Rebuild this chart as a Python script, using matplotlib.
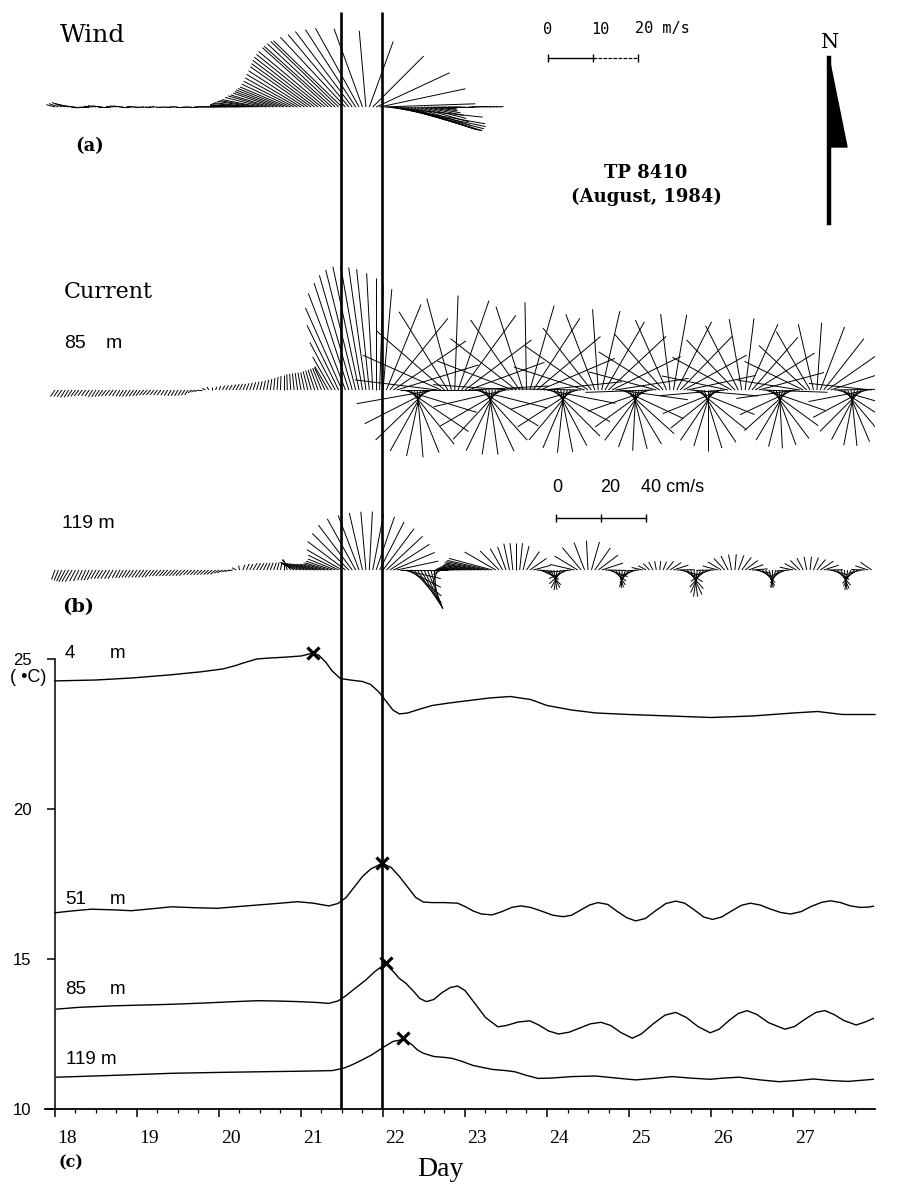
import numpy as np
import matplotlib
matplotlib.use("Agg")
import matplotlib.pyplot as plt
from matplotlib.collections import LineCollection
from matplotlib.patches import Polygon
from matplotlib.lines import Line2D
import matplotlib.transforms as mtransforms

# ---------------- data ----------------
# hourly stick data, starting at day 18.0
wind_speed = [2.0,2.2,2.4,2.4,2.2,2.0,1.8,1.8,2.0,2.2,2.2,2.0,1.8,1.6,1.6,1.8,1.8,1.6,1.5,1.5,1.5,1.6,1.6,1.5,
              1.5,1.5,1.4,1.4,1.3,1.3,1.2,1.2,1.2,1.2,1.3,1.3,1.4,1.4,1.5,1.5,1.5,1.6,1.6,1.7,1.8,1.9,2.0,2.2,
              2.5,3.0,3.5,4.2,5.0,5.7,6.5,7.3,7.6,7.9,8.1,8.3,8.6,8.8,9.0,9.2,9.5,10.0,10.6,11.0,11.4,12.0,12.6,13.3,
              14.1,14.8,15.6,16.4,17.2,18.0,18.6,19.2,19.7,20.2,20.6,21.0,21.2,21.2,21.0,21.0,20.5,20.0,18.5,17.0,15.5,16.0,18.0,19.5,
              20.5,21.5,21.5,21.0,20.0,19.0,18.0,16.5,15.0,13.5,12.0,10.5,9.0,7.5,6.0,5.0,4.0,3.5,3.0,3.0,2.5,2.5,2.0,2.0,
              2.0,1.8,1.6,1.5,1.5,1.4,1.3,1.2,1.2,1.0,1.0]
wind_dir = [285,290,295,290,285,280,275,270,265,265,270,275,280,280,275,270,270,275,280,280,275,270,270,275,
            272,270,268,268,270,272,272,270,268,268,270,272,272,270,270,268,268,270,270,272,272,272,272,272,
            272,272,273,273,274,274,274,274,276,277,279,280,281,284,286,287,289,290,291,292,293,295,297,299,
            301,303,305,306,307,308,309,310,312,312,313,314,314,317,320,323,327,331,340,355,20,45,65,78,
            88,96,100,102,104,106,107,108,109,108,106,104,102,100,98,96,95,94,93,92,92,91,90,90,
            90,88,88,86,86,85,85,85,84,84,84]

cur85_speed = [3.5,3.5,3.6,3.8,3.8,3.6,3.5,3.4,3.2,3.2,3.3,3.5,3.6,3.6,3.5,3.4,3.3,3.2,3.2,3.3,3.4,3.5,3.5,3.4,
               3.3,3.2,3.0,3.0,2.9,2.8,2.8,2.8,2.8,2.9,3.0,3.0,3.0,2.9,2.8,2.7,2.0,1.9,1.8,1.7,1.6,1.6,1.5,1.5,
               2.0,2.2,2.4,2.6,2.8,3.0,3.0,3.0,3.2,3.4,3.6,3.8,4.0,4.3,4.6,5.0,5.4,5.8,6.2,6.6,7.0,7.2,7.4,7.6,
               7.8,8,8.5,9,9.5,10,10.5,11,12,17,24,32,40,46,50,53,55,56,56,55,54,52,50,47,
               45,41,41,39,38,36,34,33,31,30,30,30,31,32,33,35,37,38,40,41,42,42,42,41,
               37,36,34,33,31,30,30,29,29,30,30,32,33,34,36,37,38,39,39,39,38,37,36,35,
               31,30,29,28,28,28,28,29,30,31,32,33,34,35,36,36,36,35,35,34,33,31,30,29,
               28,27,27,27,28,28,29,30,31,32,33,34,34,34,34,33,32,31,30,29,28,28,27,27,
               26,27,27,28,29,30,30,31,32,32,32,32,31,31,30,29,28,27,27,26,26,26,26,27,
               26,27,28,29,29,30,30,30,30,29,29,28,28,27,26,26,25,25,25,25,26,26,27,28]
cur85_dir = [215,215,214,212,212,214,216,218,218,216,214,212,212,214,216,218,218,216,214,212,212,214,214,216,
             216,218,220,222,222,220,218,216,214,212,210,210,210,212,214,216,230,240,250,270,300,330,0,20,
             25,28,30,30,30,28,26,24,22,20,18,16,14,12,10,8,6,4,2,0,358,356,354,352,
             350,348,346,344,342,340,338,335,330,330,332,334,336,339,342,344,346,348,350,352,354,357,0,2,
             5,22,39,56,73,90,107,124,141,158,175,192,209,226,243,260,277,294,311,328,345,2,19,36,
             53,70,87,104,121,138,155,172,189,206,223,240,257,274,291,308,325,342,359,16,33,50,67,84,
             101,118,135,152,169,186,203,220,237,254,271,288,305,322,339,356,13,30,47,64,81,98,115,132,
             149,166,183,200,217,234,251,268,285,302,319,336,353,10,27,44,61,78,95,112,129,146,163,180,
             197,214,231,248,265,282,299,316,333,350,7,24,41,58,75,92,109,126,143,160,177,194,211,228,
             245,262,279,296,313,330,347,4,21,38,55,72,89,106,123,140,157,174,191,208,225,242,259,276]

cur119_speed = [4.5,5,5.5,6,6,6,5.5,5.5,5,5,5,5,4.5,4.5,4.5,4.5,4.5,4.5,4,4,4,4,4,4,
                4,4,4,4,4,3.5,3.5,3.5,3.5,3.5,3.5,3.5,3.5,3.5,3.5,3,3,3,3,3,3,3,3,3,
                2.5,2.5,2,2,2,2,2,2.5,3,3,3.5,3.5,3.5,3.5,3.5,3.5,3.5,3.5,3.5,4,5,6,7,8,
                9,9.5,10,10,10,10,10,10,11,12,13,15,18,21,23,25,26,26,26,26,26,25,25,24,
                23,22,21,20,19,18,17,17,18,19,20,20,19,17,14,10,6,4,5,6,7,8,9,10,
                11,12,13,14,15,17,18,19,20,16,12,11,11,12,12,12,12,11,10,9,8,8,8,8,
                9,9,9,9,9,9,9,10,11,12,13,13,13,13,12,11,10,9,9,8,8,8,8,8,
                7,7,7,6,5,4,4,4,4,4,4,5,6,7,8,9,10,11,12,12,12,11,10,9,
                8,8,7,7,7,7,7,7,7,7,7,7,7,7,7,8,8,8,8,8,7,7,7,6,
                6,6,6,6,6,6,6,6,7,7,7,8,8,9,9,9,9,8,8,7,6,6,6,6]
cur119_dir = [200,202,205,208,210,210,208,206,205,205,206,208,210,210,212,212,210,210,208,208,210,212,214,215,
              215,215,216,216,218,218,220,220,220,222,222,222,224,224,225,225,225,225,226,226,228,228,230,230,
              235,240,245,250,260,300,350,20,25,28,30,30,30,28,25,22,20,15,10,0,340,320,300,292,
              290,288,287,286,285,285,285,286,287,289,292,296,300,307,315,323,331,339,347,355,3,11,19,27,
              37,47,57,67,78,90,103,117,130,140,146,150,154,158,165,175,200,240,265,270,272,274,275,276,
              277,278,279,280,280,281,282,283,285,300,315,330,340,348,354,0,6,14,35,55,75,95,114,122,
              137,152,171,189,208,227,245,264,283,301,320,339,357,16,35,53,72,91,109,128,146,165,183,200,
              216,233,249,266,283,299,316,332,349,6,22,39,56,72,89,105,122,139,155,172,188,204,220,236,
              252,269,285,301,317,333,349,5,21,37,53,70,86,102,118,134,150,166,182,198,215,232,249,265,
              282,299,315,332,349,6,22,39,56,72,89,106,122,139,156,172,188,205,222,238,255,272,288,305]

# temperature time series (day, deg C)
t_4m = [18.0,18.5,18.95,19.4,19.77,20.05,20.2,20.3,20.46,20.6,20.8,21.0,21.15,21.22,21.3,21.38,21.48,21.6,21.75,
        21.85,21.95,22.05,22.12,22.2,22.3,22.45,22.6,22.8,23.0,23.3,23.55,23.8,24.0,24.3,24.6,25.0,25.5,26.0,
        26.5,27.0,27.3,27.6,28.0]
T_4m = [24.27,24.3,24.37,24.47,24.57,24.67,24.78,24.87,25.0,25.03,25.06,25.1,25.2,25.12,24.9,24.6,24.35,24.3,24.25,
        24.15,23.9,23.55,23.3,23.17,23.2,23.33,23.45,23.53,23.6,23.7,23.75,23.65,23.45,23.3,23.2,23.15,23.1,23.05,
        23.1,23.2,23.25,23.15,23.15]
t_51m = [18.0,18.2,18.44,18.7,18.93,19.2,19.42,19.7,19.98,20.2,20.47,20.7,20.96,21.15,21.34,21.45,21.55,21.65,
         21.75,21.85,21.99,22.1,22.2,22.3,22.4,22.49,22.6,22.75,22.91,23.0,23.1,23.2,23.33,23.45,23.57,23.68,
         23.8,23.94,24.07,24.2,24.3,24.41,24.52,24.62,24.74,24.85,24.97,25.08,25.2,25.32,25.45,25.57,25.68,
         25.8,25.91,26.02,26.13,26.25,26.37,26.48,26.6,26.72,26.85,26.97,27.1,27.22,27.35,27.46,27.58,27.7,
         27.82,27.92,27.98]
T_51m = [16.54,16.6,16.66,16.64,16.61,16.68,16.74,16.71,16.69,16.74,16.8,16.85,16.91,16.86,16.77,16.85,17.05,17.4,
         17.75,18.0,18.19,18.05,17.75,17.4,17.05,16.9,16.88,16.88,16.86,16.75,16.6,16.5,16.47,16.58,16.72,16.77,
         16.72,16.59,16.46,16.41,16.46,16.63,16.8,16.88,16.82,16.6,16.38,16.27,16.35,16.6,16.85,16.93,16.86,
         16.63,16.4,16.32,16.4,16.6,16.79,16.86,16.8,16.67,16.55,16.5,16.58,16.75,16.89,16.94,16.88,16.77,
         16.72,16.73,16.76]
t_85m = [18.02,18.3,18.72,19.0,19.42,19.8,20.2,20.47,20.7,20.96,21.2,21.34,21.45,21.55,21.65,21.79,21.9,22.04,
         22.12,22.2,22.28,22.38,22.45,22.53,22.62,22.72,22.82,22.91,23.0,23.12,23.25,23.4,23.5,23.65,23.79,
         23.9,24.02,24.14,24.27,24.4,24.53,24.66,24.78,24.9,25.04,25.15,25.3,25.44,25.57,25.7,25.84,25.99,
         26.1,26.22,26.33,26.44,26.56,26.7,26.9,27.02,27.15,27.28,27.39,27.5,27.62,27.77,27.88,27.98]
T_85m = [13.33,13.39,13.44,13.46,13.49,13.53,13.58,13.61,13.6,13.58,13.55,13.52,13.6,13.78,14.0,14.3,14.58,14.86,
         14.6,14.35,14.19,13.9,13.68,13.58,13.65,13.88,14.05,14.1,13.95,13.52,13.05,12.74,12.78,12.9,12.94,
         12.8,12.6,12.5,12.56,12.7,12.84,12.89,12.78,12.55,12.36,12.5,12.85,13.13,13.22,13.05,12.75,12.54,
         12.66,12.95,13.18,13.28,13.15,12.88,12.66,12.75,13.0,13.22,13.28,13.15,12.95,12.8,12.9,13.02]
t_119m = [18.02,18.7,19.42,20.0,20.47,21.0,21.38,21.52,21.62,21.72,21.86,22.0,22.12,22.25,22.35,22.42,22.49,
          22.62,22.75,22.84,22.95,23.1,23.33,23.5,23.61,23.75,23.89,24.05,24.3,24.59,24.85,25.08,25.3,25.53,
          25.75,25.99,26.15,26.34,26.6,26.83,27.05,27.25,27.45,27.67,27.85,27.98]
T_119m = [11.06,11.12,11.19,11.22,11.24,11.26,11.28,11.36,11.47,11.6,11.8,12.05,12.25,12.32,12.15,11.97,11.86,
          11.75,11.72,11.69,11.6,11.45,11.32,11.28,11.24,11.12,11.02,11.03,11.08,11.1,11.03,10.97,11.02,11.08,
          11.03,10.99,11.03,11.06,10.97,10.91,10.95,11.0,10.95,10.92,10.96,10.99]

peak_day = [21.15, 21.99, 22.04, 22.24]
peak_T = [25.2, 18.2, 14.86, 12.37]
event_day = [21.49, 21.99]
day_ticks = list(range(18, 28))
temp_ticks = [10, 15, 20, 25]
wind_scale = [0, 10, 20]
cur_scale = [0, 20, 40]

# ---------------- layout ----------------
W, H = 897, 1188
fig = plt.figure(figsize=(W / 100, H / 100), dpi=100)

def box(x0, y0, x1, y1):
    return [x0 / W, 1 - y1 / H, (x1 - x0) / W, (y1 - y0) / H]

def ftext(x, y, s, **kw):
    fig.text(x / W, 1 - y / H, s, **kw)

PXD = 82.0                 # pixels per day
D0 = 18 - 10 / PXD
SERIF = "DejaVu Serif"
TIMES = "Liberation Serif"
SANS = "Liberation Sans"

# panel (c)
axc = fig.add_axes(box(45, 659, 875, 1109))
axc.set_xlim(D0, 28)
axc.set_ylim(10, 25)
axc.patch.set_alpha(0)
for s in ("top", "right"):
    axc.spines[s].set_visible(False)
axc.spines["left"].set_position(("data", 18))
axc.spines["left"].set_linewidth(1.1)
axc.spines["bottom"].set_linewidth(1.3)
axc.set_xticks(day_ticks)
axc.set_xticks([d for d in np.arange(18, 28.01, 0.25) if d % 1], minor=True)
axc.set_yticks(temp_ticks)
axc.tick_params(axis="x", which="major", direction="out", length=6, width=1.1, pad=9)
axc.tick_params(axis="x", which="minor", direction="out", length=3, width=0.9)
axc.tick_params(axis="y", direction="out", length=6, width=1.1, pad=11)
axc.set_xticklabels([str(d) for d in day_ticks], fontfamily=TIMES, fontsize=14)
axc.set_yticklabels([str(v) for v in temp_ticks], fontfamily=SANS, fontsize=12)
off = mtransforms.ScaledTranslation(12 / 100, 0, fig.dpi_scale_trans)
for lab in axc.get_xticklabels():
    lab.set_transform(lab.get_transform() + off)

for t, T in ((t_4m, T_4m), (t_51m, T_51m), (t_85m, T_85m), (t_119m, T_119m)):
    axc.plot(t, T, color="k", lw=1.0, clip_on=False, solid_joinstyle="round")
axc.plot(peak_day, peak_T, "x", color="k", ms=8, mew=2.3, clip_on=False)
axc.vlines(event_day, 10, 10 + (1109 - 12) / 30, colors="k", lw=1.9, clip_on=False, zorder=5)

# wind panel (a)
axw = fig.add_axes(box(45, 12, 875, 200))
axw.set_xlim(D0, 28)
axw.set_ylim(-(200 - 107) / 4.5, (107 - 12) / 4.5)
axw.axis("off")

def sticks(ax, speed, direction, base, kx, lw=0.7):
    sp = np.asarray(speed, float)
    th = np.deg2rad(np.asarray(direction, float))
    t = 18 + np.arange(len(sp)) / 24.0
    u = sp * np.sin(th)
    v = sp * np.cos(th)
    segs = [[(ti, base), (ti + ui * kx, base + vi)] for ti, ui, vi in zip(t, u, v)]
    ax.add_collection(LineCollection(segs, colors="k", linewidths=lw))

sticks(axw, wind_speed, wind_dir, 0, 4.5 / PXD)
xw0 = 18 + (548 - 55) / PXD
yw0 = (107 - 58) / 4.5
kw = 4.5 / PXD
sx = [xw0 + s * kw for s in wind_scale]
axw.plot(sx[:2], [yw0] * 2, color="k", lw=1.0)
axw.plot(sx[1:], [yw0] * 2, color="k", lw=0.9, ls=(0, (3, 1)))
axw.plot(sx, [yw0] * 3, "|", color="k", ms=6, mew=1.0)

# current panel (b)
axb = fig.add_axes(box(45, 215, 875, 620))
axb.set_xlim(D0, 28)
axb.set_ylim(-(620 - 390) / 2.25, (390 - 215) / 2.25)
axb.axis("off")
kc = 2.25 / PXD
sticks(axb, cur85_speed, cur85_dir, 0, kc, lw=0.7)
sticks(axb, cur119_speed, cur119_dir, -80, kc, lw=0.7)
xc0 = 18 + (556 - 55) / PXD
yc0 = (390 - 518) / 2.25
cx = [xc0 + s * kc for s in cur_scale]
axb.plot(cx, [yc0] * 3, color="k", lw=1.0)
axb.plot(cx, [yc0] * 3, "|", color="k", ms=6, mew=1.0)

# ---------------- texts ----------------
ftext(60, 35, "Wind", fontfamily=SERIF, fontsize=18, va="center", ha="left")
ftext(75, 146, "(a)", fontfamily=SERIF, fontsize=13, fontweight="bold", va="center", ha="left")
ftext(646, 173, "TP 8410", fontfamily=SERIF, fontsize=13, fontweight="bold", va="center", ha="center")
ftext(646, 197, "(August, 1984)", fontfamily=SERIF, fontsize=13, fontweight="bold", va="center", ha="center")
ftext(548, 29, "0", fontfamily="DejaVu Sans Mono", fontsize=11, va="center", ha="center")
ftext(600, 29, "10", fontfamily="DejaVu Sans Mono", fontsize=11, va="center", ha="center")
ftext(635, 29, "20 m/s", fontfamily="DejaVu Sans Mono", fontsize=11, va="center", ha="left")
ftext(830, 43, "N", fontfamily=SERIF, fontsize=15, va="center", ha="center")
fig.add_artist(Line2D([829 / W, 829 / W], [1 - 58 / H, 1 - 223 / H], lw=3.2, color="k",
                      transform=fig.transFigure))
fig.add_artist(Polygon([[829 / W, 1 - 58 / H], [847 / W, 1 - 147 / H], [829 / W, 1 - 147 / H]],
                       closed=True, fc="k", ec="k", transform=fig.transFigure))

ftext(64, 292, "Current", fontfamily=SERIF, fontsize=16, va="center", ha="left")
ftext(64, 343, "85", fontfamily=SANS, fontsize=14, va="center", ha="left")
ftext(106, 343, "m", fontfamily=SANS, fontsize=14, va="center", ha="left")
ftext(62, 523, "119 m", fontfamily=SANS, fontsize=14, va="center", ha="left")
ftext(62, 607, "(b)", fontfamily=SERIF, fontsize=14, fontweight="bold", va="center", ha="left")
ftext(557, 487, "0", fontfamily=SANS, fontsize=13, va="center", ha="center")
ftext(610, 487, "20", fontfamily=SANS, fontsize=13, va="center", ha="center")
ftext(641, 487, "40 cm/s", fontfamily=SANS, fontsize=13, va="center", ha="left")

ftext(65, 653, "4", fontfamily=SANS, fontsize=13.5, va="center", ha="left")
ftext(110, 653, "m", fontfamily=SANS, fontsize=13.5, va="center", ha="left")
ftext(10, 677, "( •C)", fontfamily=SANS, fontsize=13, va="center", ha="left")
ftext(65, 900, "51", fontfamily=SANS, fontsize=13.5, va="center", ha="left")
ftext(110, 900, "m", fontfamily=SANS, fontsize=13.5, va="center", ha="left")
ftext(65, 990, "85", fontfamily=SANS, fontsize=13.5, va="center", ha="left")
ftext(110, 990, "m", fontfamily=SANS, fontsize=13.5, va="center", ha="left")
ftext(66, 1060, "119 m", fontfamily=SANS, fontsize=13.5, va="center", ha="left")
ftext(58, 1163, "(c)", fontfamily=SERIF, fontsize=11.5, fontweight="bold", va="center", ha="left")
ftext(440, 1170, "Day", fontfamily=TIMES, fontsize=20, va="center", ha="center")

fig.savefig("out.png", dpi=100)
